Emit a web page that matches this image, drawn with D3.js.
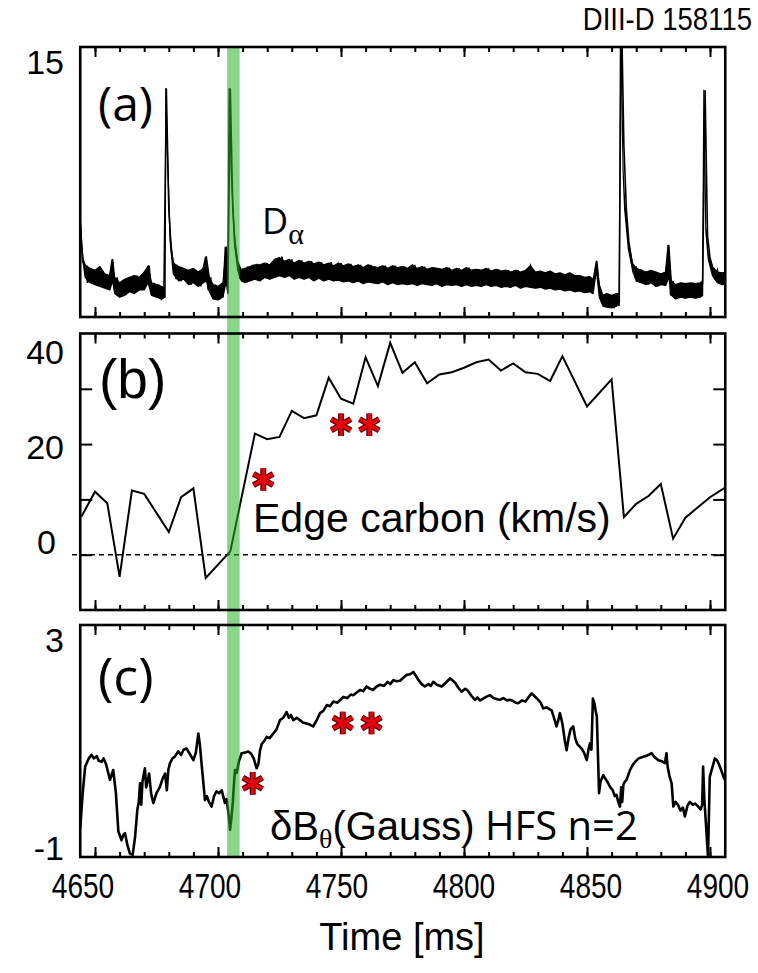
<!DOCTYPE html>
<meta charset="utf-8">
<script src="https://d3js.org/d3.v7.min.js"></script>
<style>
body { margin: 0; background: #fff; }
</style>
<div id="chart"></div>
<script>
// ---------- values ----------
var xTickLabels = [4650, 4700, 4750, 4800, 4850, 4900];
var bandTimes = [4703.7, 4708.8];

// (a) D-alpha noise envelope: [time, lower edge, upper edge]
var daEnvelope = [
  [4644.0,5.4,5.4],[4644.6,4.0,4.0],[4645.2,3.0,3.2],[4646,2.2,2.9],[4648,1.9,2.7],[4650,1.8,2.6],
  [4652,1.7,2.8],[4654,1.6,2.4],[4656,1.5,2.3],[4657.2,2.0,3.2],[4658,1.3,2.2],[4660,1.1,1.9],
  [4662,1.2,2.1],[4664,1.4,2.2],[4666,1.3,2.3],[4668,1.5,2.2],[4670,1.5,2.5],[4671.6,1.9,2.85],
  [4673,1.2,1.9],[4675,1.1,1.8],[4677,1.0,1.7],[4678.5,1.1,1.6],[4678.8,12.7,12.7],[4679.3,9.8,9.8],
  [4680.5,4.3,4.6],[4681.8,2.4,3.0],[4684,2.0,2.8],[4686,2.1,2.7],[4688,1.8,2.6],[4690,1.9,2.7],
  [4692,1.7,2.5],[4694,1.9,2.7],[4695.3,2.0,3.35],[4696.5,1.4,2.2],[4698,1.0,1.8],[4700,0.95,1.7],
  [4702,1.1,1.9],[4703.4,2.0,3.9],[4704.0,1.3,2.0],[4704.5,12.7,12.7],[4705.4,8.0,8.0],[4706.7,4.1,4.5],
  [4708,2.6,3.1],[4709.5,2.0,2.6],[4711,1.9,2.7],[4713,2.0,2.8],[4715,2.1,2.9],[4717,2.0,2.9],
  [4719,2.2,3.0],[4721,2.1,2.9],[4723,2.2,3.2],[4725,2.3,3.3],[4727,2.2,3.1],[4729,2.3,3.2],
  [4731,2.1,3.0],[4733,2.2,3.15],[4735,2.1,3.0],[4737,2.2,3.1],[4739,2.0,2.95],[4741,2.15,3.05],
  [4743,2.0,2.9],[4745,2.1,3.0],[4747,2.0,2.85],[4749,2.05,3.0],[4751,1.95,2.85],[4753,2.0,2.95],
  [4755,1.9,2.8],[4757,2.0,2.9],[4759,1.85,2.75],[4761,1.95,2.9],[4763,1.9,2.8],[4765,1.85,2.75],
  [4767,1.95,2.85],[4769,1.8,2.7],[4771,1.9,2.85],[4773,1.8,2.75],[4775,1.85,2.8],[4777,1.8,2.7],
  [4779,1.85,2.9],[4781,1.75,2.7],[4783,1.85,2.8],[4785,1.8,2.65],[4787,1.75,2.75],[4789,1.85,2.7],
  [4791,1.7,2.65],[4793,1.8,2.75],[4795,1.75,2.6],[4797,1.8,2.7],[4799,1.7,2.6],[4801,1.8,2.75],
  [4803,1.7,2.6],[4805,1.75,2.65],[4807,1.7,2.6],[4809,1.8,2.7],[4811,1.7,2.55],[4813,1.75,2.65],
  [4815,1.65,2.55],[4817,1.7,2.6],[4819,1.65,2.5],[4821,1.75,2.6],[4823,1.6,2.5],[4825,1.7,2.6],
  [4827,1.65,2.85],[4829,1.6,2.5],[4831,1.65,2.55],[4833,1.55,2.45],[4835,1.6,2.55],[4837,1.5,2.4],
  [4839,1.55,2.45],[4841,1.45,2.35],[4843,1.5,2.45],[4845,1.4,2.3],[4847,1.45,2.3],[4849,1.35,2.2],
  [4851,1.4,2.25],[4852.5,1.3,2.1],[4853.8,2.6,3.1],[4855,1.1,1.8],[4856.5,0.6,1.2],[4858,0.55,1.3],
  [4860,0.5,1.2],[4862,0.6,1.3],[4863.2,0.8,1.3],[4863.6,17,17],[4864.2,12.2,12.2],[4864.7,8.0,8.0],
  [4865.3,6.0,6.4],[4866.8,3.8,4.2],[4868.5,2.6,3.0],[4870,2.0,2.7],[4872,1.9,2.6],[4874,1.8,2.5],
  [4876,1.9,2.6],[4878,1.7,2.5],[4880,1.8,2.4],[4882,1.75,2.5],[4883.3,2.2,4.0],[4884.3,1.2,2.0],
  [4886,1.0,1.8],[4888,1.1,1.9],[4890,1.05,1.85],[4892,1.1,1.9],[4894,1.05,1.85],[4896,1.1,1.9],
  [4897.0,1.2,2.0],[4897.5,12.6,12.6],[4898.3,4.8,5.0],[4899.3,3.2,3.5],[4901,2.3,2.8],[4903,1.9,2.5],
  [4905,1.8,2.45],[4907,1.9,2.5]
];

// (a) D-alpha raw samples, every 1 ms from 4644 ms (gives the ragged edge of the noise)
var daT0 = 4644, daDt = 1;
var daValues = [
  5.4, 3.1, 2.8, 1.9, 2.7, 2.0, 2.6, 1.8, 2.8, 1.9,
  2.4, 1.6, 2.3, 3.2, 1.5, 2.2, 1.1, 1.9, 1.2, 2.1,
  1.4, 2.2, 1.3, 2.3, 1.5, 2.2, 1.6, 2.5, 2.85, 1.2,
  1.9, 1.1, 1.8, 1.0, 1.2, 12.7, 6.0, 3.7, 2.9, 2.1,
  2.8, 2.0, 2.7, 2.1, 2.6, 1.8, 2.7, 1.9, 2.5, 1.7,
  2.7, 3.35, 1.5, 2.2, 1.0, 1.8, 0.95, 1.7, 1.1, 3.9,
  1.3, 12.7, 6.0, 3.9, 3.0, 2.1, 2.7, 1.9, 2.8, 2.0,
  2.9, 2.1, 2.95, 2.0, 2.9, 2.2, 3.0, 2.1, 2.9, 2.3,
  3.2, 2.3, 3.35, 2.2, 3.1, 2.3, 3.2, 2.1, 3.0, 2.25,
  3.15, 2.1, 3.0, 2.2, 3.1, 2.0, 2.95, 2.15, 3.05, 2.0,
  2.9, 2.1, 3.05, 2.0, 2.85, 2.05, 3.0, 1.95, 2.85, 2.0,
  2.95, 1.9, 2.8, 2.0, 2.9, 1.85, 2.75, 1.95, 2.9, 1.9,
  2.8, 1.85, 2.75, 1.95, 2.85, 1.8, 2.7, 1.9, 2.85, 1.8,
  2.75, 1.85, 2.8, 1.8, 2.7, 1.85, 2.9, 1.75, 2.7, 1.85,
  2.8, 1.8, 2.65, 1.75, 2.75, 1.85, 2.7, 1.7, 2.65, 1.8,
  2.75, 1.75, 2.6, 1.8, 2.7, 1.7, 2.6, 1.8, 2.75, 1.7,
  2.6, 1.75, 2.65, 1.7, 2.6, 1.8, 2.7, 1.7, 2.55, 1.75,
  2.65, 1.65, 2.55, 1.7, 2.6, 1.65, 2.5, 1.75, 2.6, 1.6,
  2.5, 1.7, 2.6, 2.85, 1.65, 2.5, 1.6, 2.55, 1.65, 2.45,
  1.55, 2.55, 1.6, 2.4, 1.5, 2.45, 1.55, 2.35, 1.45, 2.45,
  1.5, 2.3, 1.4, 2.3, 1.45, 2.2, 1.35, 2.25, 1.4, 2.1,
  3.1, 1.6, 1.2, 0.6, 1.3, 0.55, 1.2, 0.5, 1.3, 0.6,
  17, 9.5, 6.0, 4.2, 3.3, 2.4, 2.8, 2.0, 2.65, 1.9,
  2.5, 1.8, 2.6, 1.9, 2.5, 1.7, 2.4, 1.8, 2.5, 4.0,
  1.2, 2.0, 1.0, 1.8, 1.1, 1.9, 1.05, 1.85, 1.1, 1.9,
  1.05, 1.85, 1.1, 1.9, 12.6, 4.5, 3.3, 2.8, 2.2, 2.6,
  1.9, 2.45, 1.8, 2.5
];

// (b) edge carbon rotation (km/s)
var carbon = [
  [4644.5,6.9],[4650,11.4],[4655,9.3],[4660,-4.0],[4665,11.6],[4670,11.0],[4680,4.1],[4685,10.4],
  [4690,12.0],[4695,-4.2],[4705,0.6],[4715,21.9],[4720,20.9],[4725,21.3],[4730,26.0],[4735,24.7],
  [4740,25.2],[4745,32.0],[4750,28.2],[4755,27.3],[4760,35.7],[4765,30.5],[4770,38.3],[4775,32.9],
  [4780,34.8],[4785,31.0],[4790,32.6],[4795,33.0],[4800,33.8],[4805,34.8],[4810,35.3],[4815,33.3],
  [4820,34.6],[4825,33.0],[4830,32.7],[4835,31.4],[4840,35.9],[4850,26.8],[4860,31.7],[4865,6.8],
  [4870,9.2],[4875,10.6],[4880,12.8],[4885,2.9],[4890,6.7],[4900,10.4],[4905,11.8],[4910,13.0]
];

// (c) dB_theta HFS n=2 (Gauss)
var dbtheta = [
  [4644,-0.5],[4645,0.1],[4646,0.56],[4647.5,0.7],[4648.6,0.76],[4649.5,0.7],[4650.7,0.74],[4651.5,0.66],
  [4652.7,0.64],[4653.5,0.7],[4654.5,0.6],[4656.1,0.33],[4657.4,0.5],[4658.5,0.1],[4659.5,-0.56],
  [4660.8,-0.71],[4661.5,-0.62],[4662.2,-0.59],[4663.2,-0.8],[4664.2,-0.94],[4665.3,-0.97],[4666.3,-0.65],
  [4667.2,-0.19],[4667.8,-0.05],[4668.3,0.27],[4668.8,-0.1],[4669.3,0.3],[4670.3,0.53],[4670.8,0.2],
  [4671.2,0.27],[4672,0.44],[4672.8,0.1],[4673.7,-0.07],[4675,0.1],[4676.4,0.21],[4677.5,0.35],
  [4678.5,0.44],[4679.2,0.15],[4679.8,0.5],[4680.5,0.62],[4681.5,0.7],[4682.5,0.73],[4683.8,0.82],
  [4685,0.76],[4686,0.85],[4687.2,0.87],[4688.5,0.78],[4690,0.67],[4691,0.8],[4692,1.13],[4692.6,0.95],
  [4693.3,0.62],[4694.7,-0.02],[4695.5,0.05],[4696.3,-0.05],[4697.4,-0.13],[4698.4,0.05],[4699.4,0.13],
  [4700.5,0.1],[4701.5,0.15],[4702.3,0.02],[4702.8,-0.07],[4703.5,0.0],[4704.4,-0.3],[4704.9,-0.53],
  [4705.5,-0.3],[4706,-0.07],[4706.4,0.2],[4706.9,0.5],[4707.6,0.45],[4708.5,0.65],[4709.6,0.79],
  [4711,0.8],[4712.3,0.82],[4713.5,0.78],[4714.5,0.7],[4715.7,0.53],[4716.4,0.6],[4717.1,0.84],
  [4717.8,0.95],[4718.8,1.0],[4719.8,1.07],[4721,1.05],[4722.5,1.13],[4723.8,1.2],[4725.2,1.36],
  [4726.5,1.4],[4727.9,1.5],[4728.8,1.4],[4729.6,1.45],[4730.6,1.36],[4732,1.4],[4733.3,1.36],
  [4734.5,1.32],[4736,1.3],[4737.5,1.28],[4738.7,1.25],[4740,1.35],[4741.5,1.48],[4742.8,1.52],
  [4744.2,1.62],[4745.5,1.6],[4746.9,1.68],[4748.5,1.66],[4750,1.72],[4751,1.76],[4752.5,1.74],
  [4754,1.8],[4755,1.79],[4756.5,1.84],[4757.7,1.88],[4759,1.86],[4760.4,1.94],[4761.8,1.9],
  [4763,1.88],[4764.5,1.94],[4765.9,1.97],[4767.5,1.95],[4769,2.02],[4770,1.98],[4771.3,2.05],
  [4772.5,2.03],[4774,2.04],[4775.5,2.1],[4776.7,2.14],[4778,2.15],[4779.4,2.19],[4780.5,2.12],
  [4781.5,2.05],[4782.8,1.98],[4784.1,1.94],[4785.5,1.98],[4786.5,1.95],[4787.5,2.02],[4789,1.97],
  [4790.9,1.94],[4792.5,2.0],[4794.3,2.08],[4795.5,2.04],[4796.5,2.0],[4797.5,1.93],[4799,1.85],
  [4800.5,1.9],[4801.5,1.87],[4803,1.78],[4804.5,1.71],[4805.5,1.75],[4806.5,1.7],[4807.8,1.73],
  [4809,1.76],[4810.6,1.79],[4812,1.74],[4813.5,1.72],[4814.6,1.71],[4816,1.74],[4817.5,1.7],
  [4818.7,1.71],[4820,1.69],[4821,1.66],[4822,1.65],[4823.5,1.7],[4825,1.68],[4826.5,1.77],
  [4827.5,1.82],[4828.5,1.78],[4830.2,1.71],[4831.2,1.66],[4832.2,1.56],[4833.5,1.58],[4835.6,1.53],
  [4836.6,1.4],[4837.6,1.25],[4838.3,1.35],[4839,1.48],[4840,1.3],[4841,1.0],[4841.7,0.84],
  [4842.5,1.05],[4843.3,1.2],[4844.4,1.25],[4845.2,1.05],[4846,0.95],[4847.8,0.87],[4848.8,0.8],
  [4849.9,0.67],[4850.6,0.85],[4851.2,0.96],[4851.8,0.85],[4852.4,1.73],[4853.0,1.65],[4853.6,1.5],
  [4854,1.42],[4854.9,0.1],[4855.5,0.3],[4856.6,0.41],[4857.5,0.35],[4858.5,0.28],[4859.5,0.2],
  [4860.5,0.15],[4861.3,0.05],[4862,0.07],[4862.7,-0.05],[4863.4,-0.13],[4863.9,0.2],[4864.3,-0.05],
  [4864.8,0.25],[4865.4,0.3],[4866.1,0.33],[4867.5,0.5],[4868.5,0.58],[4869.5,0.64],[4871,0.7],
  [4872.9,0.73],[4874.5,0.75],[4876.3,0.79],[4877.5,0.72],[4879,0.67],[4880.5,0.65],[4881.7,0.62],
  [4882.3,0.79],[4882.8,0.55],[4883.5,0.4],[4884.4,0.27],[4885.1,-0.13],[4886,-0.05],[4887,-0.1],
  [4888,-0.2],[4889,-0.15],[4889.8,-0.3],[4890.8,-0.12],[4891.8,-0.05],[4893,-0.1],[4894,-0.08],
  [4895.2,-0.13],[4896.2,-0.18],[4896.8,-0.1],[4897.2,0.56],[4897.7,0.0],[4898.3,-0.4],[4899.2,-1.0],
  [4899.9,0.38],[4901,0.55],[4902,0.70],[4903,0.66],[4904,0.56],[4905.7,0.36],[4906.5,0.3]
];

// red asterisks
var starsB = [[4718.4,13.6],[4750,23.5],[4761.5,23.5]];
var starsC = [[4714.1,0.27],[4750.7,1.31],[4762.4,1.31]];

var ticksA = [15];
var ticksB = [0, 20, 40];
var ticksC = [-1, 3];

// ---------- layout ----------
var W = 758, H = 973;
var xLim = [4644, 4906.2];

var svg = d3.select("#chart").append("svg")
    .attr("width", W).attr("height", H)
    .style("font-family", "'Liberation Sans', Arial, sans-serif");

var x = d3.scaleLinear().domain([4650, 4900]).range([95, 710]);
// tick text in the figure sits on a slightly wider grid than the tick marks
var xLab = d3.scaleLinear().domain([4650, 4900]).range([83, 718]);

var panels = [
  {id: "a", y: d3.scaleLinear().domain([0, 15]).range([317, 47]),
   lab: d3.scaleLinear().domain([0, 15]).range([300, 61.5]), ticks: ticksA},
  {id: "b", y: d3.scaleLinear().domain([-10, 40]).range([610, 333.5]),
   lab: d3.scaleLinear().domain([0, 40]).range([542, 352]), ticks: ticksB},
  {id: "c", y: d3.scaleLinear().domain([-1, 3]).range([857, 625]),
   lab: d3.scaleLinear().domain([-1, 3]).range([848, 640]), ticks: ticksC}
];

var x0 = x(xLim[0]), x1 = x(xLim[1]);

panels.forEach(function(p) {
  var r = p.y.range();
  svg.append("clipPath").attr("id", "clip-" + p.id)
    .append("rect").attr("x", x0).attr("y", r[1]).attr("width", x1 - x0).attr("height", r[0] - r[1]);
});

var pa = panels[0], pb = panels[1], pc = panels[2];

// D-alpha: solid noise band plus the raw samples on top
var areaA = d3.area()
  .x(function(d) { return x(d[0]); })
  .y0(function(d) { return pa.y(d[1]); })
  .y1(function(d) { return pa.y(d[2]); });
svg.append("path").datum(daEnvelope)
  .attr("clip-path", "url(#clip-a)")
  .attr("d", areaA)
  .attr("fill", "#000").attr("stroke", "#000").attr("stroke-width", 1.2)
  .attr("stroke-linejoin", "round");

var lineA = d3.line()
  .x(function(d, i) { return x(daT0 + i * daDt); })
  .y(function(d) { return pa.y(d); });
svg.append("path").datum(daValues)
  .attr("clip-path", "url(#clip-a)")
  .attr("d", lineA)
  .attr("fill", "none").attr("stroke", "#000").attr("stroke-width", 1.6)
  .attr("stroke-linejoin", "miter");

// zero line for (b)
svg.append("line")
  .attr("x1", 72).attr("x2", x1)
  .attr("y1", pb.y(0)).attr("y2", pb.y(0))
  .attr("stroke", "#000").attr("stroke-width", 1.5).attr("stroke-dasharray", "5,4");

// carbon rotation
var lineB = d3.line().x(function(d) { return x(d[0]); }).y(function(d) { return pb.y(d[1]); });
svg.append("path").datum(carbon)
  .attr("clip-path", "url(#clip-b)")
  .attr("d", lineB)
  .attr("fill", "none").attr("stroke", "#000").attr("stroke-width", 2)
  .attr("stroke-linejoin", "miter");

// dB theta
var lineC = d3.line().x(function(d) { return x(d[0]); }).y(function(d) { return pc.y(d[1]); });
svg.append("path").datum(dbtheta)
  .attr("clip-path", "url(#clip-c)")
  .attr("d", lineC)
  .attr("fill", "none").attr("stroke", "#000").attr("stroke-width", 2.6)
  .attr("stroke-linejoin", "round");

// green time band across all panels
svg.append("rect")
  .attr("x", x(bandTimes[0])).attr("width", x(bandTimes[1]) - x(bandTimes[0]))
  .attr("y", pa.y.range()[1]).attr("height", pc.y.range()[0] - pa.y.range()[1])
  .attr("fill", "rgb(40,180,40)").attr("opacity", 0.55);

// frames and ticks
var minor = d3.range(4650, 4901, 10);
var major = d3.range(4650, 4901, 50);
panels.forEach(function(p) {
  var r = p.y.range();
  var g = svg.append("g");
  [[d3.axisBottom, r[0]], [d3.axisTop, r[1]]].forEach(function(s) {
    g.append("g").attr("transform", "translate(0," + s[1] + ")")
      .call(s[0](x).tickValues(minor).tickSize(-5).tickFormat(""))
      .call(function(a) { a.select(".domain").remove(); });
    g.append("g").attr("transform", "translate(0," + s[1] + ")")
      .call(s[0](x).tickValues(major).tickSize(-10).tickFormat(""))
      .call(function(a) { a.select(".domain").remove(); });
  });
  g.selectAll(".tick line").attr("stroke", "#000").attr("stroke-width", 2);
  g.append("rect").attr("x", x0).attr("y", r[1]).attr("width", x1 - x0).attr("height", r[0] - r[1])
    .attr("fill", "none").attr("stroke", "#000").attr("stroke-width", 2.6);
});

// y ticks on (b)
var yTicksB = [0, 10, 20, 30];
[[d3.axisLeft, x0, -12], [d3.axisRight, x1, -12]].forEach(function(s) {
  svg.append("g").attr("transform", "translate(" + s[1] + ",0)")
    .call(s[0](pb.y).tickValues(yTicksB).tickSize(s[2]).tickFormat(""))
    .call(function(a) { a.select(".domain").remove(); })
    .selectAll(".tick line").attr("stroke", "#000").attr("stroke-width", 2);
});

// y tick labels
panels.forEach(function(p) {
  svg.append("g").selectAll("text").data(p.ticks).enter().append("text")
    .attr("x", function(d) { return d === 0 ? 56 : 64; })
    .attr("y", function(d) { return p.lab(d); })
    .attr("dy", "0.36em")
    .attr("text-anchor", "end")
    .attr("font-size", 34)
    .text(function(d) { return d; });
});

// x tick labels (condensed)
svg.append("g").selectAll("g").data(xTickLabels).enter().append("g")
  .attr("transform", function(d) { return "translate(" + xLab(d) + ",898) scale(0.78,1)"; })
  .append("text")
    .attr("text-anchor", "middle").attr("font-size", 36)
    .text(function(d) { return d; });

svg.append("text").attr("x", 402).attr("y", 950).attr("text-anchor", "middle")
  .attr("font-size", 38).text("Time [ms]");

svg.append("g").attr("transform", "translate(752,30) scale(0.86,1)")
  .append("text").attr("text-anchor", "end").attr("font-size", 32).text("DIII-D  158115");

// panel letters and labels
svg.append("text").attr("x", 98).attr("y", 121).attr("font-family", "'Open Sans', sans-serif")
  .attr("font-size", 48).text("(a)");
svg.append("text").attr("x", 99).attr("y", 398).attr("font-size", 55).text("(b)");
svg.append("text").attr("x", 98).attr("y", 695).attr("font-family", "'Open Sans', sans-serif")
  .attr("font-size", 52).text("(c)");

var da = svg.append("text").attr("x", 262).attr("y", 234)
  .attr("font-family", "'Open Sans', sans-serif").attr("font-size", 36);
da.append("tspan").text("D");
da.append("tspan").attr("font-family", "'Liberation Serif', serif").attr("font-size", 30)
  .attr("dy", 10).text("α");

svg.append("text").attr("x", 253).attr("y", 532).attr("font-size", 41).text("Edge carbon (km/s)");

var db = svg.append("text").attr("x", 270).attr("y", 840).attr("font-size", 40);
db.append("tspan").text("δB");
db.append("tspan").attr("font-family", "'Liberation Serif', serif").attr("font-size", 28)
  .attr("dy", 8).text("θ");
db.append("tspan").attr("dy", -8).text("(Gauss)");
db.append("tspan").attr("font-family", "'Open Sans', sans-serif").text(" HFS n=2");

// asterisks
var star = d3.symbol().type(d3.symbolAsterisk).size(360);
[[starsB, pb], [starsC, pc]].forEach(function(s) {
  var g = svg.append("g");
  g.selectAll(".o").data(s[0]).enter().append("path")
    .attr("transform", function(d) { return "translate(" + x(d[0]) + "," + s[1].y(d[1]) + ")"; })
    .attr("d", star).attr("fill", "none").attr("stroke", "#500000").attr("stroke-width", 6);
  g.selectAll(".i").data(s[0]).enter().append("path")
    .attr("transform", function(d) { return "translate(" + x(d[0]) + "," + s[1].y(d[1]) + ")"; })
    .attr("d", star).attr("fill", "none").attr("stroke", "#e8000b").attr("stroke-width", 3.6);
});
</script>
